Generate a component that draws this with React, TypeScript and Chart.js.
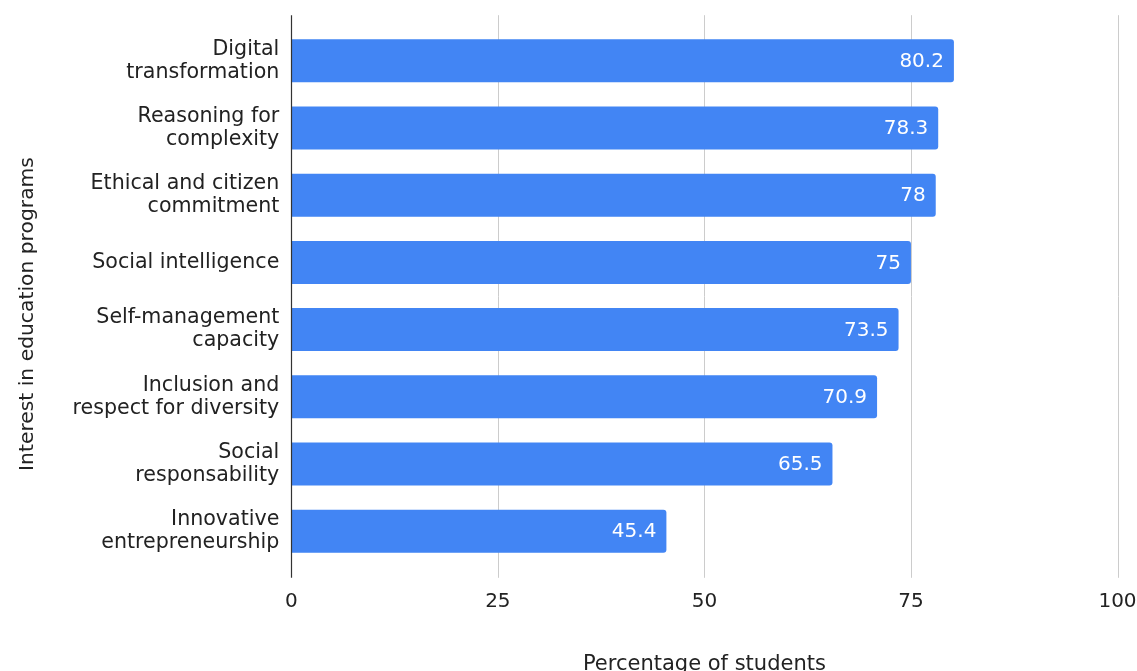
import React, { useEffect, useRef } from "react";
import { Chart, registerables } from "chart.js";

Chart.register(...registerables);

const categories: (string | string[])[] = [
  ["Digital", "transformation"],
  ["Reasoning for", "complexity"],
  ["Ethical and citizen", "commitment"],
  "Social intelligence",
  ["Self-management", "capacity"],
  ["Inclusion and", "respect for diversity"],
  ["Social", "responsability"],
  ["Innovative", "entrepreneurship"],
];
const values: number[] = [80.2, 78.3, 78, 75, 73.5, 70.9, 65.5, 45.4];
const xTicks: number[] = [0, 25, 50, 75, 100];
const xTitle = "Percentage of students";
const yTitle = "Interest in education programs";

const FONT = "'DejaVu Sans', sans-serif";
const TEXT = "#222222";
const BAR = "#4285F4";

const gridPlugin = {
  id: "gridExt",
  beforeDatasetsDraw(chart: any) {
    const { ctx, chartArea, scales } = chart;
    const x = scales.x;
    ctx.save();
    ctx.lineWidth = 1;
    ctx.strokeStyle = "#cccccc";
    x.ticks.forEach((t: any) => {
      if (t.value === 0) return;
      const px = Math.round(x.getPixelForValue(t.value)) + 0.5;
      ctx.beginPath();
      ctx.moveTo(px, chartArea.top - 12);
      ctx.lineTo(px, chartArea.bottom + 13);
      ctx.stroke();
    });
    ctx.restore();
  },
  afterDatasetsDraw(chart: any) {
    const { ctx, chartArea, scales } = chart;
    const x = scales.x;
    ctx.save();
    ctx.lineWidth = 1.2;
    ctx.strokeStyle = "#333333";
    const px = Math.round(x.getPixelForValue(0)) + 0.5;
    ctx.beginPath();
    ctx.moveTo(px, chartArea.top - 12);
    ctx.lineTo(px, chartArea.bottom + 13);
    ctx.stroke();

    // value labels
    const meta = chart.getDatasetMeta(0);
    ctx.fillStyle = "#ffffff";
    ctx.font = `20px ${FONT}`;
    ctx.textAlign = "right";
    ctx.textBaseline = "middle";
    meta.data.forEach((bar: any, i: number) => {
      ctx.fillText(String(values[i]), bar.x - 10, bar.y + 1);
    });

    // y axis title
    ctx.fillStyle = TEXT;
    ctx.font = `20.3px ${FONT}`;
    ctx.textAlign = "center";
    ctx.textBaseline = "middle";
    ctx.translate(28, 314);
    ctx.rotate(-Math.PI / 2);
    ctx.fillText(yTitle, 0, 0);
    ctx.restore();
  },
};

const zeroPad = (scale: any) => {
  scale.paddingTop = 0;
  scale.paddingBottom = 0;
  scale.paddingLeft = 0;
  scale.paddingRight = 0;
};

export default function App() {
  const ref = useRef<HTMLCanvasElement>(null);
  useEffect(() => {
    document.body.style.margin = "0";
    const canvas = ref.current;
    if (!canvas) return;
    const chart = new Chart(canvas, {
      type: "bar",
      data: {
        labels: categories,
        datasets: [
          {
            data: values,
            backgroundColor: BAR,
            borderWidth: 0,
            borderRadius: 3,
            barPercentage: 0.64,
            categoryPercentage: 1,
          },
        ],
      },
      options: {
        indexAxis: "y",
        responsive: false,
        animation: false,
        layout: { padding: { top: 27.2, right: 19.5, bottom: 0, left: 0 } },
        plugins: {
          legend: { display: false },
          tooltip: { enabled: false },
        },
        scales: {
          x: {
            type: "linear",
            min: 0,
            max: 100,
            afterBuildTicks: (scale: any) => {
              scale.ticks = xTicks.map((v) => ({ value: v }));
            },
            grid: { display: false, drawTicks: false },
            border: { display: false },
            ticks: {
              font: { family: FONT, size: 20 },
              color: TEXT,
              padding: 25,
              maxRotation: 0,
            },
            title: {
              display: true,
              text: xTitle,
              font: { family: FONT, size: 21, lineHeight: 1.2 },
              color: TEXT,
              padding: { top: 0, bottom: -6 },
            },
            afterFit: (scale: any) => {
              scale.height = 106.2;
              zeroPad(scale);
            },
          },
          y: {
            grid: { display: false, drawTicks: false },
            border: { display: false },
            ticks: {
              font: { family: FONT, size: 20.6, lineHeight: 1.12 },
              color: TEXT,
              padding: 12,
            },
            afterFit: (scale: any) => {
              scale.width = 291.3;
              zeroPad(scale);
            },
          },
        },
      },
      plugins: [gridPlugin],
    });
    return () => chart.destroy();
  }, []);
  return (
    <div style={{ width: 1137, height: 671 }}>
      <canvas ref={ref} width={1137} height={671} style={{ display: "block" }} />
    </div>
  );
}
